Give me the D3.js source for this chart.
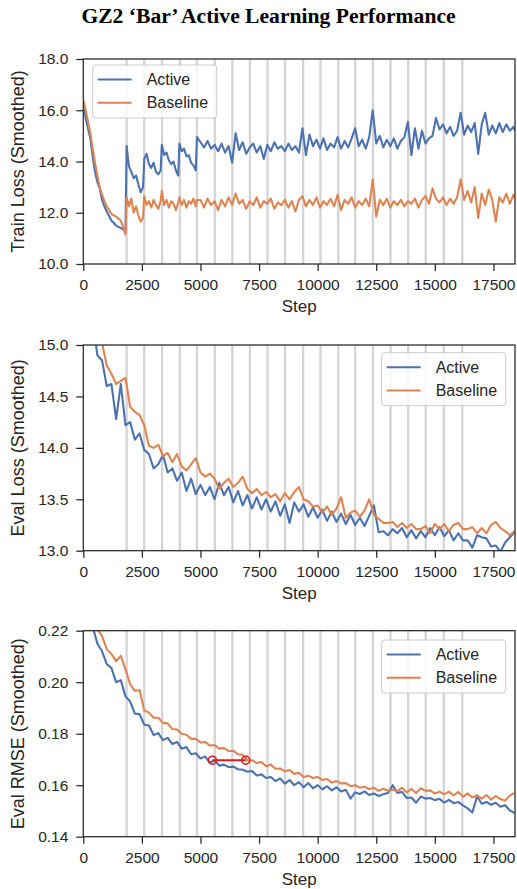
<!DOCTYPE html>
<html><head><meta charset="utf-8">
<script src="https://cdn.jsdelivr.net/npm/d3@7"></script>
<style>body{margin:0;background:#fff} svg{display:block}</style>
</head><body><svg id="c" width="517" height="889"></svg>
<script>
const TITLE = "GZ2 \u2018Bar\u2019 Active Learning Performance";
const SERIES_NAMES = ["Active", "Baseline"];
const X_TICKS = [0, 2500, 5000, 7500, 10000, 12500, 15000, 17500];
const X_MAX = 18420;
const QUERY_STEPS = [1850, 2600, 3360, 4120, 4850, 5610, 6360, 7110, 7860, 8610, 9380, 10120, 10880, 11600, 12360, 13110, 13860, 14610, 15380, 16170];

const TRAIN_STEPS = [0,100,200,300,400,500,600,700,800,900,1000,1200,1400,1600,1800,
  1850,1950,2050,2150,2250,2350,2450,2550,
  2600,2700,2800,2900,3000,3100,3200,3300,
  3350,3450,3550,3650,3750,3850,3950,4050,
  4100,4200,4300,4400,4500,4600,4700,4800,4850,
  5000,5150,5300,5450,5600,5750,5900,6050,6200,6350,
  6500,6650,6800,6950,7100,7250,7400,7550,7700,7850,
  8000,8150,8300,8450,8600,8750,8900,9050,9200,9350,
  9500,9650,9800,9950,10100,10250,10400,10550,10700,10850,
  11000,11150,11300,11450,11600,11750,11900,12050,12200,12350,
  12500,12650,12800,12950,13100,13250,13400,13550,13700,13850,
  14000,14150,14300,14450,14600,14750,14900,15050,15200,15350,
  15500,15650,15800,15950,16100,16250,16400,16550,16700,16850,
  17000,17150,17300,17450,17600,17750,17900,18050,18200,18350,18420];
const TRAIN_ACTIVE = [16.3,15.7,15.3,14.9,14.2,13.6,13.2,12.95,12.5,12.25,12.05,11.7,11.5,11.4,11.3,
  14.6,13.8,13.6,13.35,13.45,13.1,12.8,13.0,
  14.1,14.3,13.9,13.75,13.95,13.6,13.5,13.65,
  14.65,14.25,14.35,14.05,13.9,14.0,13.65,13.45,
  14.7,14.4,14.5,14.2,14.25,13.95,13.85,13.65,14.95,
  14.75,14.55,14.8,14.5,14.65,14.4,14.7,14.35,14.6,13.95,
  15.1,14.45,14.75,14.3,14.55,14.7,14.35,14.6,14.1,14.65,
  14.4,14.75,14.5,14.6,14.4,14.7,14.45,14.6,14.35,15.3,
  14.25,15.05,14.6,14.85,14.5,14.9,14.45,14.7,14.55,14.95,
  14.5,14.8,14.55,14.9,15.3,14.6,14.85,14.5,14.95,16.0,
  14.7,15.0,14.55,14.85,14.6,14.9,14.5,14.8,14.95,15.55,
  14.25,15.3,14.5,15.2,14.7,14.9,15.0,15.7,15.25,15.45,
  15.1,15.35,15.0,15.2,15.9,15.05,15.4,15.15,15.5,14.3,
  15.45,15.9,15.05,15.4,15.1,15.5,15.15,15.45,15.2,15.35,15.2];
const TRAIN_BASELINE = [16.4,16.0,15.55,15.1,14.5,13.95,13.45,13.0,12.7,12.45,12.25,11.95,11.85,11.7,11.15,
  12.6,12.25,12.55,12.0,12.25,11.9,11.65,11.8,
  12.65,12.3,12.45,12.2,12.5,12.3,12.15,12.45,
  12.85,12.3,12.5,12.2,12.45,12.35,12.1,12.4,
  12.6,12.3,12.5,12.2,12.45,12.35,12.55,12.25,12.5,
  12.5,12.2,12.55,12.3,12.45,12.1,12.5,12.25,12.6,12.3,
  12.75,12.35,12.5,12.15,12.45,12.3,12.6,12.2,12.45,12.35,
  12.55,12.15,12.4,12.3,12.5,12.2,12.45,12.05,12.5,12.65,
  12.25,12.5,12.3,12.6,12.2,12.45,12.3,12.55,12.25,12.7,
  12.1,12.5,12.35,12.6,12.2,12.45,12.3,12.55,12.25,13.3,
  11.85,12.5,12.3,12.55,12.2,12.45,12.3,12.5,12.25,12.45,
  12.35,12.55,12.2,12.5,12.65,12.35,12.95,12.55,12.4,12.6,
  12.3,12.55,12.35,12.6,13.3,12.5,12.85,12.4,13.0,11.8,
  12.75,12.3,12.9,12.5,11.65,12.6,12.4,12.75,12.35,12.7,12.55];

const EVAL_STEPS = [400,600,800,1000,1200,1400,1600,1800,2000,2200,
  2400,2600,2800,3000,3200,3400,3600,3800,4000,4200,
  4400,4600,4800,5000,5200,5400,5600,5800,6000,6200,
  6400,6600,6800,7000,7200,7400,7600,7800,8000,8200,
  8400,8600,8800,9000,9200,9400,9600,9800,10000,10200,
  10400,10600,10800,11000,11200,11400,11600,11800,12000,12200,
  12400,12600,12800,13000,13200,13400,13600,13800,14000,14200,
  14400,14600,14800,15000,15200,15400,15600,15800,16000,16200,
  16400,16600,16800,17000,17200,17400,17600,17800,18000,18200,18400];
const EVAL_LOSS_ACTIVE = [15.25,14.9,14.85,14.6,14.62,14.28,14.62,14.22,14.25,14.08,
  14.14,13.98,13.94,13.8,13.84,13.93,13.76,13.8,13.68,13.76,
  13.58,13.7,13.55,13.64,13.54,13.62,13.5,13.66,13.54,13.62,
  13.47,13.58,13.44,13.54,13.41,13.52,13.4,13.5,13.38,13.48,
  13.34,13.45,13.27,13.47,13.38,13.45,13.33,13.42,13.32,13.4,
  13.29,13.38,13.28,13.36,13.26,13.35,13.25,13.32,13.24,13.34,
  13.44,13.18,13.19,13.15,13.21,13.17,13.22,13.13,13.2,13.12,
  13.19,13.13,13.22,13.15,13.23,13.14,13.2,13.1,13.17,13.1,
  13.1,13.03,13.15,13.13,13.12,13.04,13.05,12.99,13.08,13.13,13.18];
const EVAL_LOSS_BASELINE = [15.6,15.25,15.02,14.8,14.72,14.62,14.65,14.68,14.4,14.35,
  14.32,14.22,14.02,14.0,14.03,13.92,13.95,13.86,13.94,13.82,
  13.78,13.84,13.9,13.76,13.72,13.75,13.7,13.6,13.66,13.7,
  13.62,13.66,13.72,13.6,13.56,13.6,13.54,13.57,13.52,13.55,
  13.48,13.56,13.5,13.57,13.62,13.5,13.48,13.43,13.44,13.37,
  13.43,13.35,13.41,13.52,13.32,13.37,13.39,13.33,13.39,13.5,
  13.35,13.31,13.27,13.27,13.28,13.23,13.27,13.22,13.26,13.21,
  13.21,13.24,13.17,13.26,13.21,13.26,13.19,13.25,13.27,13.21,
  13.21,13.23,13.17,13.22,13.17,13.25,13.28,13.22,13.19,13.15,13.19];
const EVAL_RMSE_ACTIVE = [0.2215,0.2150,0.2120,0.2070,0.2055,0.2000,0.2008,0.1945,0.1925,0.1878,
  0.1876,0.1835,0.1832,0.1795,0.1802,0.1775,0.1784,0.1760,0.1768,0.1742,
  0.1748,0.1720,0.1724,0.1704,0.1712,0.1688,0.1696,0.1676,0.1680,0.1670,
  0.1672,0.1662,0.1660,0.1652,0.1655,0.1638,0.1642,0.1628,0.1632,0.1616,
  0.1626,0.1606,0.1620,0.1600,0.1612,0.1592,0.1608,0.1588,0.1600,0.1584,
  0.1596,0.1580,0.1592,0.1576,0.1582,0.1548,0.1572,0.1566,0.1576,0.1562,
  0.1568,0.1558,0.1565,0.1570,0.1600,0.1570,0.1574,0.1550,0.1552,0.1532,
  0.1556,0.1548,0.1550,0.1542,0.1547,0.1532,0.1543,0.1530,0.1535,0.1522,
  0.1510,0.1494,0.1556,0.1528,0.1535,0.1524,0.1532,0.1516,0.1522,0.1502,0.1492];
const EVAL_RMSE_BASELINE = [0.2255,0.2205,0.2180,0.2128,0.2110,0.2082,0.2102,0.2050,0.1992,0.1966,
  0.1970,0.1890,0.1882,0.1862,0.1862,0.1842,0.1840,0.1818,0.1816,0.1800,
  0.1796,0.1780,0.1780,0.1766,0.1768,0.1754,0.1756,0.1742,0.1744,0.1732,
  0.1734,0.1720,0.1718,0.1696,0.1697,0.1686,0.1690,0.1674,0.1680,0.1664,
  0.1665,0.1654,0.1659,0.1644,0.1648,0.1632,0.1637,0.1628,0.1632,0.1620,
  0.1624,0.1610,0.1616,0.1607,0.1608,0.1596,0.1600,0.1590,0.1594,0.1585,
  0.1590,0.1578,0.1586,0.1579,0.1583,0.1577,0.1590,0.1572,0.1586,0.1570,
  0.1588,0.1578,0.1580,0.1568,0.1575,0.1564,0.1575,0.1560,0.1574,0.1555,
  0.1568,0.1552,0.1561,0.1548,0.1562,0.1544,0.1558,0.1546,0.1540,0.1560,0.1570];
const MARKER_STEPS = [5510, 6930];
const MARKER_VALUES = [0.1697, 0.1697];

const TRAIN_Y_TICKS = [10, 12, 14, 16, 18];
const LOSS_Y_TICKS = [13, 13.5, 14, 14.5, 15];
const RMSE_Y_TICKS = [0.14, 0.16, 0.18, 0.20, 0.22];

const COLORS = ["#4c72b0", "#dd8452"];
const INK = "#262626";
const SANS = "'Liberation Sans', Arial, sans-serif";

const svg = d3.select("#c");
svg.append("text").attr("x", 268.5).attr("y", 22.5).attr("text-anchor", "middle")
  .style("font-family", "'Liberation Serif', 'Times New Roman', serif").style("font-weight", "bold")
  .style("font-size", "21.6px").attr("fill", "#000").text(TITLE);

const LEFT = 83.3, RIGHT = 515;
const x = d3.scaleLinear().domain([0, X_MAX]).range([LEFT, RIGHT]);

const panels = [
  {top: 59, bottom: 264, dom: [10, 18], ticks: TRAIN_Y_TICKS, fmt: d3.format(".1f"), label: "Train Loss (Smoothed)",
   steps: TRAIN_STEPS, series: [TRAIN_ACTIVE, TRAIN_BASELINE], legend: {x: 92.7, y: 65}},
  {top: 345, bottom: 550.7, dom: [13, 15], ticks: LOSS_Y_TICKS, fmt: d3.format(".1f"), label: "Eval Loss (Smoothed)",
   steps: EVAL_STEPS, series: [EVAL_LOSS_ACTIVE, EVAL_LOSS_BASELINE], legend: {x: 381.7, y: 352.7}},
  {top: 630.7, bottom: 836.7, dom: [0.14, 0.22], ticks: RMSE_Y_TICKS, fmt: d3.format(".2f"), label: "Eval RMSE (Smoothed)",
   steps: EVAL_STEPS, series: [EVAL_RMSE_ACTIVE, EVAL_RMSE_BASELINE], legend: {x: 381.7, y: 640}, marker: true}
];

panels.forEach((p, i) => {
  const y = d3.scaleLinear().domain(p.dom).range([p.bottom, p.top]);
  const g = svg.append("g");
  const cid = "clip" + i;
  svg.append("defs").append("clipPath").attr("id", cid).append("rect")
    .attr("x", LEFT).attr("y", p.top).attr("width", RIGHT - LEFT).attr("height", p.bottom - p.top);
  const plot = g.append("g").attr("clip-path", `url(#${cid})`);
  plot.selectAll("line.q").data(QUERY_STEPS).join("line").attr("class", "q")
    .attr("x1", d => x(d)).attr("x2", d => x(d)).attr("y1", p.top).attr("y2", p.bottom)
    .attr("stroke", "#d4d4d4").attr("stroke-width", 2.3);
  p.series.forEach((vals, si) => {
    const line = d3.line().x((d, k) => x(p.steps[k])).y(d => y(d));
    plot.append("path").datum(vals).attr("d", line).attr("fill", "none")
      .attr("stroke", COLORS[si]).attr("stroke-width", 2.1).attr("stroke-linejoin", "round");
  });
  if (p.marker) {
    const pts = MARKER_STEPS.map((s, k) => [s, MARKER_VALUES[k]]);
    plot.append("path").datum(pts).attr("d", d3.line().x(d => x(d[0])).y(d => y(d[1])))
      .attr("fill", "none").attr("stroke", "#e0191c").attr("stroke-width", 2);
    plot.selectAll("circle.m").data(pts).join("circle").attr("class", "m")
      .attr("cx", d => x(d[0])).attr("cy", d => y(d[1])).attr("r", 4)
      .attr("fill", "none").attr("stroke", "#e0191c").attr("stroke-width", 1.6);
  }
  const ya = g.append("g").attr("transform", `translate(${LEFT},0)`)
    .call(d3.axisLeft(y).tickValues(p.ticks).tickFormat(p.fmt).tickSize(7).tickPadding(8));
  const xa = g.append("g").attr("transform", `translate(0,${p.bottom})`)
    .call(d3.axisBottom(x).tickValues(X_TICKS).tickFormat(d3.format("d")).tickSize(7).tickPadding(8));
  [ya, xa].forEach(a => {
    a.select(".domain").remove();
    a.selectAll("line").attr("stroke", INK).attr("stroke-width", 1.25);
    a.selectAll("text").attr("fill", INK).style("font-family", SANS).style("font-size", "15.5px");
  });
  g.append("rect").attr("x", LEFT).attr("y", p.top).attr("width", RIGHT - LEFT).attr("height", p.bottom - p.top)
    .attr("fill", "none").attr("stroke", INK).attr("stroke-width", 1.25);
  g.append("text").attr("x", (LEFT + RIGHT) / 2).attr("y", p.bottom + 48).attr("text-anchor", "middle")
    .attr("fill", INK).style("font-family", SANS).style("font-size", "17px").text("Step");
  g.append("text").attr("transform", `translate(23.5,${(p.top + p.bottom) / 2}) rotate(-90)`)
    .attr("text-anchor", "middle").attr("fill", INK).style("font-family", SANS).style("font-size", "18px").text(p.label);
  const L = g.append("g").attr("transform", `translate(${p.legend.x},${p.legend.y})`);
  L.append("rect").attr("width", 124).attr("height", 53).attr("rx", 3)
    .attr("fill", "#fff").attr("fill-opacity", 0.8).attr("stroke", "#cccccc").attr("stroke-width", 1);
  SERIES_NAMES.forEach((n, si) => {
    const ry = 14.5 + si * 23.3;
    L.append("line").attr("x1", 5).attr("x2", 39).attr("y1", ry).attr("y2", ry)
      .attr("stroke", COLORS[si]).attr("stroke-width", 2);
    L.append("text").attr("x", 54).attr("y", ry).attr("dy", "0.35em").attr("fill", INK)
      .style("font-family", SANS).style("font-size", "16px").text(n);
  });
});
</script></body></html>
